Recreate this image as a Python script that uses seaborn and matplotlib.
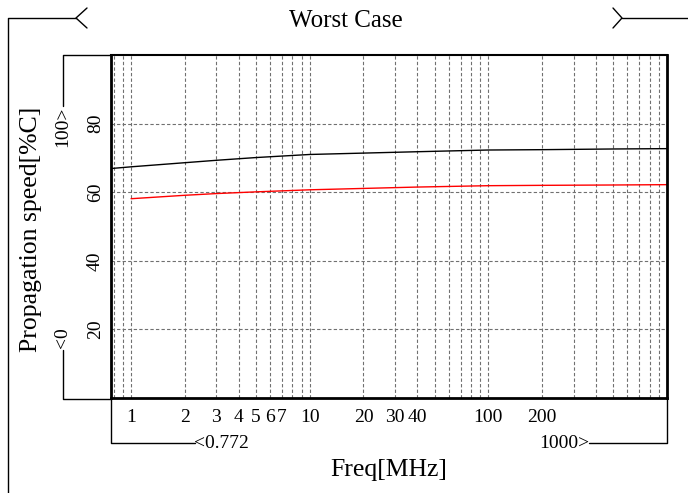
import matplotlib
matplotlib.use("Agg")
import matplotlib.pyplot as plt
import seaborn as sns
import pandas as pd
from matplotlib.lines import Line2D

# ---- data ----
freq_black = [0.772, 1, 2, 3, 5, 10, 20, 40, 100, 200, 500, 1000]
speed_black = [66.9, 67.4, 68.6, 69.3, 70.1, 71.0, 71.4, 71.8, 72.3, 72.4, 72.6, 72.7]
freq_red = [1, 2, 3, 5, 10, 20, 40, 100, 200, 500, 1000]
speed_red = [58.1, 59.1, 59.6, 60.1, 60.7, 61.1, 61.5, 61.9, 62.0, 62.1, 62.2]

xtick_vals = [1, 2, 3, 4, 5, 6, 7, 10, 20, 30, 40, 100, 200]
xtick_labels = ["1", "2", "3", "4", "5", "6", "7", "10", "20", "30", "40", "100", "200"]
xgrid_minor = [0.8, 0.9, 8, 9, 50, 60, 70, 80, 90, 300, 400, 500, 600, 700, 800, 900]
ytick_vals = [20, 40, 60, 80]
ytick_labels = ["20", "40", "60", "80"]
x_min, x_max = 0.772, 1000
y_min, y_max = 0, 100
title = "Worst Case"
xlabel = "Freq[MHz]"
ylabel = "Propagation speed[%C]"

df_black = pd.DataFrame({"freq": freq_black, "speed": speed_black})
df_red = pd.DataFrame({"freq": freq_red, "speed": speed_red})

sns.set_theme(style="white")
plt.rcParams["font.family"] = ["Liberation Serif", "DejaVu Serif"]

W, H = 688, 493
fig = plt.figure(figsize=(W / 100, H / 100), dpi=100)
L, R, T, B = 111, 667, 55, 398
ax = fig.add_axes([L / W, 1 - B / H, (R - L) / W, (B - T) / H])

sns.lineplot(data=df_black, x="freq", y="speed", color="black", lw=1.0, ax=ax)
sns.lineplot(data=df_red, x="freq", y="speed", color="#ff0000", lw=1.0, ax=ax)

ax.set_xscale("log")
ax.set_xlim(x_min, x_max)
ax.set_ylim(y_min, y_max)
ax.set_xticks(xtick_vals)
ax.set_xticklabels(xtick_labels)
ax.set_xticks(xgrid_minor, minor=True)
ax.set_xticklabels([], minor=True)
ax.set_yticks(ytick_vals)
ax.set_yticklabels(ytick_labels, rotation=90, va="center")
ax.tick_params(axis="both", which="both", length=0, labelsize=14, colors="black")
ax.tick_params(axis="x", pad=8)
ax.tick_params(axis="y", pad=5)
ax.set_xlabel("")
ax.set_ylabel("")

gkw = dict(color="#707070", linestyle=(0, (3, 2)), linewidth=0.8)
ax.grid(True, which="both", axis="x", **gkw)
ax.grid(True, which="major", axis="y", **gkw)

for side, lw in [("left", 2.0), ("bottom", 2.0), ("right", 2.0), ("top", 1.5)]:
    ax.spines[side].set_visible(True)
    ax.spines[side].set_color("black")
    ax.spines[side].set_linewidth(lw)


def fline(xs, ys, lw=1.0):
    fig.add_artist(Line2D([x / W for x in xs], [1 - y / H for y in ys],
                          transform=fig.transFigure, color="black", lw=lw))


def ftext(x, y, s, **kw):
    fig.text(x / W, 1 - y / H, s, color="black", **kw)


# title with bracket frame
ftext(346, 21, title, ha="center", va="center", fontsize=18)
fline([8, 8, 76], [493, 18, 18])
fline([87, 76, 87], [8, 18, 28])
fline([613, 622, 613], [8, 18, 28])
fline([622, 688], [18, 18])

# axis labels
ftext(389, 470, xlabel, ha="center", va="center", fontsize=18.5)
ftext(31, 229, ylabel, ha="center", va="center", rotation=90, fontsize=18.5)

# y range markers
ftext(63, 338, "<0", ha="center", va="center", rotation=90, fontsize=14)
fline([63, 63, 111], [350, 399, 399])
ftext(63, 127, "100>", ha="center", va="center", rotation=90, fontsize=14)
fline([63, 63, 111], [106, 55, 55])

# x range markers
ftext(194, 443, "<0.772", ha="left", va="center", fontsize=14)
fline([111, 111, 195], [398, 443, 443])
ftext(589, 443, "1000>", ha="right", va="center", fontsize=14)
fline([589, 667, 667], [443, 443, 398])

fig.savefig("out.png", dpi=100)
